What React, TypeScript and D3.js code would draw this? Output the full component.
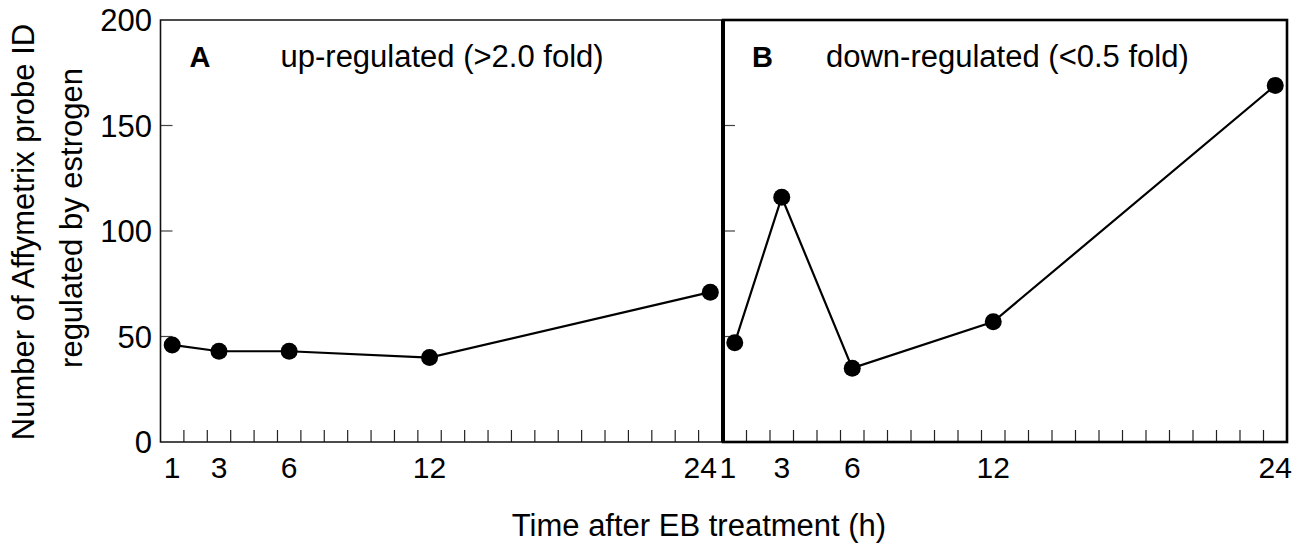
import React, { useEffect, useRef } from 'react';
import * as d3 from 'd3';

// values
const hours = [1, 3, 6, 12, 24];
const upRegulated = [46, 43, 43, 40, 71];
const downRegulated = [47, 116, 35, 57, 169];
const yTickValues = [0, 50, 100, 150, 200];
const xTickLabels = [1, 3, 6, 12, 24];
const panelNames = ['A', 'B'];
const panelTitles = ['up-regulated (>2.0 fold)', 'down-regulated (<0.5 fold)'];

const width = 1303;
const height = 546;
const top = 20;
const bottom = 442;
const font = '"Liberation Sans", Arial, Helvetica, sans-serif';

const App = () => {
  const ref = useRef<SVGSVGElement | null>(null);

  useEffect(() => {
    const svg = d3.select(ref.current);
    svg.selectAll('*').remove();

    const y = d3.scaleLinear().domain([0, 200]).range([bottom, top]);
    const xA = d3.scaleLinear().domain([0.5, 24.5]).range([160.5, 722]);
    const xB = d3.scaleLinear().domain([0.5, 24.5]).range([723, 1287]);
    const minor = d3.range(1.5, 24, 1);

    const g = svg.append('g').attr('font-family', font).attr('fill', '#000');

    const panels = [
      { x: xA, values: upRegulated, labelShift: (h: number) => (h === 24 ? -10 : 0) },
      { x: xB, values: downRegulated, labelShift: (h: number) => (h === 1 ? -7 : 0) },
    ];

    panels.forEach((p, i) => {
      const x = p.x;
      const [x0, x1] = x.range();

      // minor ticks along the bottom, pointing up
      g.selectAll(null)
        .data(minor)
        .enter()
        .append('line')
        .attr('x1', d => x(d))
        .attr('x2', d => x(d))
        .attr('y1', bottom)
        .attr('y2', bottom - 12)
        .attr('stroke', '#222')
        .attr('stroke-width', 1.2);

      // y ticks pointing inward
      g.selectAll(null)
        .data(yTickValues.filter(v => v > 0 && v < 200))
        .enter()
        .append('line')
        .attr('x1', x0)
        .attr('x2', x0 + 12)
        .attr('y1', d => y(d))
        .attr('y2', d => y(d))
        .attr('stroke', '#444')
        .attr('stroke-width', 1.2);

      // x tick labels
      g.selectAll(null)
        .data(xTickLabels)
        .enter()
        .append('text')
        .attr('x', d => x(d) + p.labelShift(d))
        .attr('y', 478)
        .attr('text-anchor', 'middle')
        .attr('font-size', 30)
        .text(d => d);

      // panel letter and title
      g.append('text')
        .attr('x', x0 + 29)
        .attr('y', 67)
        .attr('font-size', 29)
        .attr('font-weight', 'bold')
        .text(panelNames[i]);
      g.append('text')
        .attr('x', x0 + (i === 0 ? 120 : 103))
        .attr('y', 67)
        .attr('font-size', 31)
        .text(panelTitles[i]);

      // series
      const pts = hours.map((h, k) => [x(h), y(p.values[k])] as [number, number]);
      g.append('path')
        .attr('d', d3.line()(pts))
        .attr('fill', 'none')
        .attr('stroke', '#000')
        .attr('stroke-width', 2.2);
      g.selectAll(null)
        .data(pts)
        .enter()
        .append('circle')
        .attr('cx', d => d[0])
        .attr('cy', d => d[1])
        .attr('r', 8.5)
        .attr('fill', '#000');

      // frame
      if (i === 0) {
        g.append('path')
          .attr('d', `M${x1},${top}H${x0}V${bottom}H${x1}`)
          .attr('fill', 'none')
          .attr('stroke', '#111')
          .attr('stroke-width', 1.6);
      } else {
        g.append('rect')
          .attr('x', x0)
          .attr('y', top)
          .attr('width', x1 - x0)
          .attr('height', bottom - top)
          .attr('fill', 'none')
          .attr('stroke', '#000')
          .attr('stroke-width', 2.6);
        g.append('line')
          .attr('x1', x0)
          .attr('x2', x0)
          .attr('y1', top)
          .attr('y2', bottom)
          .attr('stroke', '#000')
          .attr('stroke-width', 4);
      }
    });

    // y tick labels (left panel only)
    g.selectAll(null)
      .data(yTickValues)
      .enter()
      .append('text')
      .attr('x', 152)
      .attr('y', d => y(d))
      .attr('dy', '0.36em')
      .attr('text-anchor', 'end')
      .attr('font-size', 31)
      .text(d => d);

    // axis titles
    g.append('text')
      .attr('transform', 'translate(34,232) rotate(-90)')
      .attr('text-anchor', 'middle')
      .attr('font-size', 31)
      .text('Number of Affymetrix probe ID');
    g.append('text')
      .attr('transform', 'translate(82,218) rotate(-90)')
      .attr('text-anchor', 'middle')
      .attr('font-size', 31)
      .text('regulated by estrogen');
    g.append('text')
      .attr('x', 699)
      .attr('y', 536)
      .attr('text-anchor', 'middle')
      .attr('font-size', 31)
      .text('Time after EB treatment (h)');
  }, []);

  return (
    <svg
      ref={ref}
      width={width}
      height={height}
      style={{ position: 'absolute', left: 0, top: 0, background: '#fff' }}
    />
  );
};

export default App;
